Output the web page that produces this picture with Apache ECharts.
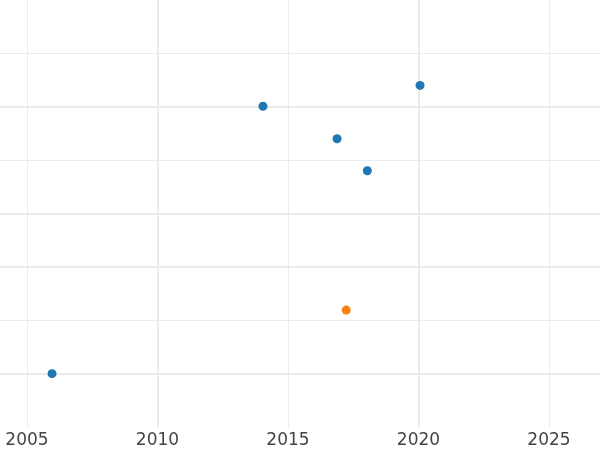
<!DOCTYPE html>
<html>
<head>
<meta charset="utf-8">
<script src="https://cdn.jsdelivr.net/npm/echarts@6/dist/echarts.min.js"></script>
<style>
  html, body { margin: 0; padding: 0; background: #fff; }
  #chart { width: 600px; height: 450px; }
</style>
</head>
<body>
<div id="chart"></div>
<script>
// data
const blueYears = [2005.96, 2014.04, 2016.88, 2018.04, 2020.06];
const blueValues = [1.0, 6.01, 5.40, 4.80, 6.40];
const orangeYears = [2017.23];
const orangeValues = [2.19];
const yearTicks = [2000, 2030];

var gridLine = '#ebebeb';

var myChart = echarts.init(document.getElementById('chart'));

var option = {
  animation: false,
  grid: {
    left: -103.5,
    right: -79.5,
    top: 0,
    bottom: 23,
    containLabel: false,
    outerBoundsMode: 'none'
  },
  xAxis: [
    {
      type: 'value',
      min: yearTicks[0],
      max: yearTicks[1],
      interval: 5,
      axisLine: { show: false },
      axisTick: { show: false },
      axisLabel: {
        color: '#444',
        fontSize: 17,
        fontFamily: 'DejaVu Sans',
        margin: 5,
        formatter: function (v) { return String(v); }
      },
      splitLine: { lineStyle: { color: gridLine, width: 1 } }
    },
    {
      type: 'value',
      min: yearTicks[0],
      max: yearTicks[1],
      interval: 10,
      position: 'bottom',
      axisLine: { show: false },
      axisTick: { show: false },
      axisLabel: { show: false },
      splitLine: { lineStyle: { color: gridLine, width: 2 } }
    }
  ],
  yAxis: [
    {
      type: 'value',
      min: 0,
      max: 8,
      interval: 1,
      axisLine: { show: false },
      axisTick: { show: false },
      axisLabel: { show: false },
      // thin lines
      splitLine: {
        lineStyle: {
          width: 1,
          color: ['transparent', gridLine, gridLine, gridLine, gridLine, gridLine, gridLine, gridLine, 'transparent']
        }
      }
    },
    {
      type: 'value',
      min: 0,
      max: 8,
      interval: 1,
      axisLine: { show: false },
      axisTick: { show: false },
      axisLabel: { show: false },
      // thick lines
      splitLine: {
        lineStyle: {
          width: 2,
          color: ['transparent', gridLine, 'transparent', gridLine, gridLine, 'transparent', gridLine, 'transparent', 'transparent']
        }
      }
    }
  ],
  series: [
    {
      type: 'scatter',
      xAxisIndex: 0,
      yAxisIndex: 0,
      symbolSize: 9,
      itemStyle: { color: '#1f77b4', opacity: 1 },
      data: blueYears.map(function (x, i) { return [x, blueValues[i]]; })
    },
    {
      type: 'scatter',
      xAxisIndex: 0,
      yAxisIndex: 0,
      symbolSize: 9,
      itemStyle: { color: '#ff7f0e', opacity: 1 },
      data: orangeYears.map(function (x, i) { return [x, orangeValues[i]]; })
    }
  ]
};

myChart.setOption(option);
</script>
</body>
</html>
